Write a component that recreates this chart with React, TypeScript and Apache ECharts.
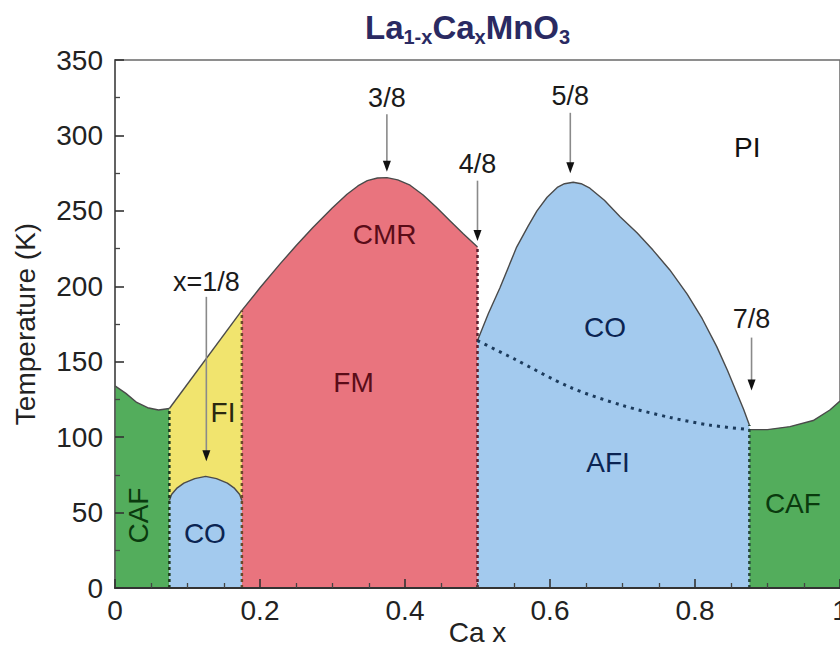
import React, { useEffect, useRef } from 'react';
import * as echarts from 'echarts';

// Phase boundaries (x = Ca content, y = temperature K)
const cafLeftTop = [[0, 134], [0.015, 129], [0.03, 123], [0.045, 119.5], [0.06, 118], [0.075, 119]];
const fiTop = [[0.075, 119], [0.175, 184]];
const coSmallTop = [[0.075, 58], [0.078, 62], [0.085, 66], [0.095, 69.5], [0.11, 72.5], [0.125, 74], [0.14, 72.5], [0.155, 69.5], [0.165, 66], [0.172, 62], [0.175, 58]];
const fmTop = [[0.175, 184], [0.2, 199], [0.228, 215], [0.25, 227], [0.273, 239], [0.3, 252], [0.32, 261], [0.335, 266.5], [0.348, 270], [0.362, 271.8], [0.375, 272], [0.39, 270.5], [0.407, 267], [0.425, 260.5], [0.444, 252], [0.462, 243.5], [0.48, 235], [0.5, 226]];
const coTop = [[0.5, 164], [0.515, 182], [0.531, 199], [0.554, 226], [0.57, 240], [0.582, 250], [0.596, 259], [0.61, 265.5], [0.62, 268], [0.632, 269], [0.643, 268], [0.655, 265], [0.675, 257], [0.697, 246], [0.72, 235.5], [0.742, 224], [0.765, 211], [0.789, 195], [0.81, 178.5], [0.83, 160], [0.845, 144], [0.858, 129], [0.867, 118.5], [0.875, 108]];
const afiBoundary = [[0.5, 164], [0.55, 152], [0.628, 133], [0.7, 121], [0.766, 113], [0.82, 108], [0.875, 105]];
const cafRightTop = [[0.875, 105], [0.9, 105], [0.931, 107], [0.963, 111], [0.986, 118], [1.0, 124]];

// Vertical dotted phase dividers
const dividerX = [0.075, 0.175, 0.5, 0.875];
const dividerTop = [119, 184, 226, 108];
const dividerColors = ['#1e3a1e', '#6a4a2a', '#5a1f2e', '#24463a'];

// Arrow annotations
const arrowLabels = ['3/8', '5/8', '4/8', '7/8', 'x=1/8'];
const arrowX = [0.375, 0.628, 0.5, 0.878, 0.126];
const arrowTextY = [325, 326, 281, 178, 203];
const arrowTop = [314, 315, 270, 166, 193];
const arrowTip = [276, 275, 230, 131, 84];

// Phase names
const phaseNames = ['CMR', 'FM', 'FI', 'CO', 'CAF', 'CO', 'AFI', 'CAF', 'PI'];
const phaseX = [0.372, 0.329, 0.149, 0.124, 0.032, 0.676, 0.68, 0.935, 0.872];
const phaseY = [234, 136, 116.5, 36, 48, 173, 83, 56, 292];

const GREEN = '#53ad5c';
const YELLOW = '#f1e46e';
const BLUE = '#a3caee';
const RED = '#e9747e';

const FONT = '"Liberation Sans", Arial, Helvetica, sans-serif';

export default function App() {
  const ref = useRef<HTMLDivElement>(null);
  useEffect(() => {
    if (!ref.current) return;
    const chart = echarts.init(ref.current, null, { renderer: 'svg' });

    const regions = [
      { pts: [[0, 0], ...cafLeftTop, [0.075, 0]], color: GREEN },
      { pts: [...fiTop, ...coSmallTop.slice().reverse()], color: YELLOW },
      { pts: [[0.075, 0], ...coSmallTop, [0.175, 0]], color: BLUE },
      { pts: [[0.175, 0], ...fmTop, [0.5, 0]], color: RED },
      { pts: [[0.5, 0], ...coTop, [0.875, 0]], color: BLUE },
      { pts: [[0.875, 0], ...cafRightTop, [1, 0]], color: GREEN },
    ];

    const phaseColors = ['#5a0c18', '#5a0c18', '#2a2810', '#0b2452', '#0a3a0e', '#0b2452', '#0b2452', '#0a3a0e', '#111111'];
    const phaseRot = [0, 0, 0, 0, Math.PI / 2, 0, 0, 0, 0];

    const curveSeries = [cafLeftTop, fiTop, coSmallTop, fmTop, coTop, cafRightTop].map((d) => ({
      type: 'line',
      data: d,
      showSymbol: false,
      silent: true,
      z: 3,
      lineStyle: { color: '#4a4a4a', width: 1.4 },
    }));

    const dividerSeries = dividerX.map((x, i) => ({
      type: 'line',
      data: [[x, 0], [x, dividerTop[i]]],
      showSymbol: false,
      silent: true,
      z: 4,
      lineStyle: { color: dividerColors[i], width: 2.5, type: [3, 3] },
    }));

    const option: any = {
      animation: false,
      backgroundColor: '#ffffff',
      title: {
        left: 360,
        top: 6,
        text: '{a|La}{s|1-x}{a|Ca}{s|x}{a|MnO}{s|3}',
        textStyle: {
          rich: {
            a: { fontSize: 33, fontFamily: FONT, fontWeight: 'bold', color: '#2a2a62', lineHeight: 36, verticalAlign: 'top' },
            s: { fontSize: 20, fontFamily: FONT, fontWeight: 'bold', color: '#2a2a62', lineHeight: 20, verticalAlign: 'bottom', padding: [20, 0, 0, 0] },
          },
        },
      },
      grid: {
        left: 115,
        right: 0,
        top: 60,
        bottom: 61,
        outerBoundsMode: 'none',
        show: true,
        borderColor: '#6a6a6a',
        borderWidth: 1.5,
        backgroundColor: 'transparent',
      },
      xAxis: {
        type: 'value',
        min: 0,
        max: 1,
        interval: 0.2,
        z: 10,
        name: 'Ca x',
        nameLocation: 'middle',
        nameGap: 30,
        nameMoveOverlap: false,
        nameTextStyle: { fontSize: 28, fontFamily: FONT, color: '#222' },
        axisLine: { show: true, lineStyle: { color: '#333', width: 2 } },
        axisTick: { show: true, inside: true, length: 9, lineStyle: { color: '#333', width: 1.6 } },
        minorTick: { show: true, splitNumber: 4, length: 5, lineStyle: { color: '#444', width: 1.3 } },
        splitLine: { show: false },
        axisLabel: { fontSize: 28, fontFamily: FONT, color: '#222', margin: 8 },
      },
      yAxis: {
        type: 'value',
        min: 0,
        max: 350,
        interval: 50,
        z: 10,
        name: 'Temperature (K)',
        nameLocation: 'middle',
        nameGap: 76,
        nameMoveOverlap: false,
        nameTextStyle: { fontSize: 28, fontFamily: FONT, color: '#222' },
        axisLine: { show: true, lineStyle: { color: '#555', width: 1.5 } },
        axisTick: { show: true, inside: true, length: 9, lineStyle: { color: '#333', width: 1.6 } },
        minorTick: { show: true, splitNumber: 2, length: 5, lineStyle: { color: '#444', width: 1.3 } },
        splitLine: { show: false },
        axisLabel: { fontSize: 28, fontFamily: FONT, color: '#222', margin: 12 },
      },
      series: [
        {
          type: 'custom',
          silent: true,
          z: 1,
          data: regions.map((r) => r.pts[0]),
          renderItem: (params: any, api: any) => {
            const r = regions[params.dataIndex];
            return {
              type: 'polygon',
              shape: { points: r.pts.map((p) => api.coord(p)) },
              style: { fill: r.color },
            };
          },
        },
        ...curveSeries,
        ...dividerSeries,
        {
          type: 'line',
          data: afiBoundary,
          showSymbol: false,
          silent: true,
          z: 4,
          smooth: 0.3,
          lineStyle: { color: '#1c3b5c', width: 3, type: [3, 5] },
        },
        {
          type: 'custom',
          silent: true,
          z: 6,
          data: arrowX.map((x, i) => [x, arrowTextY[i]]),
          renderItem: (params: any, api: any) => {
            const i = params.dataIndex;
            const t = api.coord([arrowX[i], arrowTextY[i]]);
            const top = api.coord([arrowX[i], arrowTop[i]]);
            const tip = api.coord([arrowX[i], arrowTip[i]]);
            return {
              type: 'group',
              children: [
                {
                  type: 'line',
                  shape: { x1: top[0], y1: top[1], x2: tip[0], y2: tip[1] - 8 },
                  style: { stroke: '#8a8a8a', lineWidth: 1.6 },
                },
                {
                  type: 'polygon',
                  shape: { points: [[tip[0] - 4, tip[1] - 11], [tip[0] + 4, tip[1] - 11], [tip[0], tip[1]]] },
                  style: { fill: '#111' },
                },
                {
                  type: 'text',
                  x: t[0],
                  y: t[1],
                  style: {
                    text: arrowLabels[i],
                    fill: '#1a1a1a',
                    fontSize: 27,
                    fontFamily: FONT,
                    align: 'center',
                    verticalAlign: 'middle',
                  },
                },
              ],
            };
          },
        },
        {
          type: 'custom',
          silent: true,
          z: 6,
          data: phaseX.map((x, i) => [x, phaseY[i]]),
          renderItem: (params: any, api: any) => {
            const i = params.dataIndex;
            const p = api.coord([phaseX[i], phaseY[i]]);
            return {
              type: 'text',
              x: p[0],
              y: p[1],
              rotation: phaseRot[i],
              style: {
                text: phaseNames[i],
                fill: phaseColors[i],
                fontSize: 28,
                fontFamily: FONT,
                align: 'center',
                verticalAlign: 'middle',
              },
            };
          },
        },
      ],
    };

    chart.setOption(option);
    return () => chart.dispose();
  }, []);

  return (
    <div
      ref={ref}
      style={{ position: 'absolute', left: 0, top: 0, width: 840, height: 649, background: '#fff' }}
    />
  );
}
